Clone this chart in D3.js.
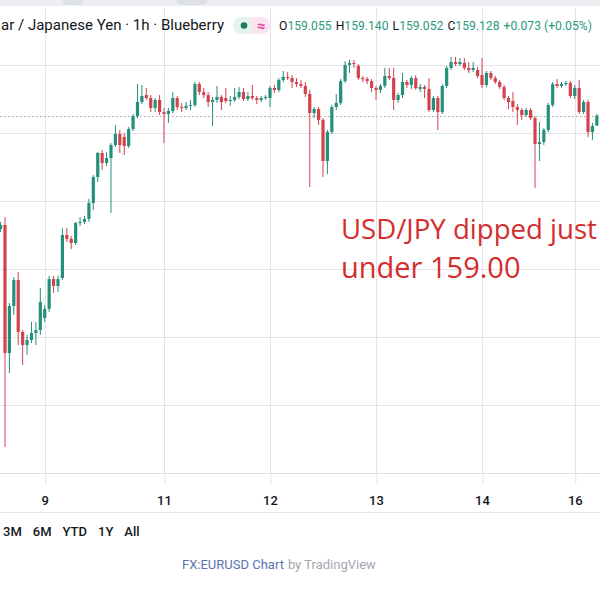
<!DOCTYPE html>
<html><head><meta charset="utf-8">
<script src="https://cdn.jsdelivr.net/npm/d3@7"></script>
<style>html,body{margin:0;padding:0;background:#fff;overflow:hidden}</style>
</head><body>
<svg id="c" width="600" height="600" xmlns="http://www.w3.org/2000/svg"></svg>
<script>
// ---- data ----
const open = [158.294,158.324,157.382,157.728,157.919,157.537,157.441,157.478,157.529,157.551,
157.640,157.706,157.926,157.875,157.934,158.250,158.221,158.191,158.338,158.346,
158.368,158.485,158.676,158.853,158.779,158.816,158.912,158.993,158.971,158.904,
159.029,159.125,159.228,159.279,159.257,159.184,159.243,159.154,159.140,159.162,
159.257,159.191,159.184,159.199,159.206,159.360,159.301,159.279,159.228,159.243,
159.265,159.257,159.235,159.243,159.265,159.301,159.250,159.272,159.257,159.243,
159.257,159.257,159.331,159.316,159.390,159.412,159.404,159.375,159.360,159.346,
159.287,159.147,159.176,159.096,158.794,159.007,159.191,159.221,159.382,159.500,
159.515,159.493,159.404,159.397,159.382,159.331,159.316,159.346,159.419,159.404,
159.243,159.279,159.375,159.353,159.404,159.324,159.338,159.324,159.169,159.257,
159.154,159.346,159.478,159.522,159.507,159.515,159.478,159.463,159.463,159.426,
159.353,159.441,159.404,159.375,159.338,159.257,159.235,159.191,159.169,159.132,
159.169,159.110,158.919,158.934,159.022,159.206,159.360,159.346,159.360,159.368,
159.272,159.331,159.154,159.228,159.007,159.055];
const high = [158.346,158.382,157.750,157.941,157.978,157.551,157.515,157.610,157.610,157.860,
157.735,157.949,157.949,157.949,158.301,158.301,158.243,158.346,158.382,158.390,
158.515,158.691,158.860,158.875,158.860,158.926,159.059,159.022,159.000,159.044,
159.140,159.360,159.353,159.331,159.279,159.257,159.279,159.184,159.184,159.301,
159.272,159.221,159.228,159.243,159.375,159.375,159.331,159.301,159.265,159.346,
159.279,159.331,159.272,159.331,159.338,159.331,159.301,159.353,159.272,159.272,
159.279,159.346,159.353,159.404,159.456,159.449,159.426,159.404,159.390,159.375,
159.316,159.191,159.191,159.110,159.022,159.206,159.287,159.397,159.529,159.537,
159.537,159.507,159.419,159.412,159.397,159.346,159.360,159.478,159.478,159.478,
159.294,159.441,159.390,159.419,159.426,159.360,159.353,159.404,159.272,159.272,
159.360,159.493,159.559,159.559,159.551,159.551,159.522,159.522,159.485,159.551,
159.456,159.456,159.419,159.390,159.353,159.272,159.301,159.213,159.184,159.184,
159.184,159.125,159.081,159.037,159.221,159.375,159.397,159.375,159.382,159.382,
159.353,159.390,159.243,159.243,159.074,159.140];
const low = [158.272,156.691,157.235,157.662,157.441,157.294,157.368,157.456,157.441,157.515,
157.610,157.684,157.824,157.831,157.919,158.199,158.147,158.176,158.316,158.331,
158.346,158.434,158.640,158.728,158.757,158.412,158.897,158.853,158.838,158.890,
159.015,159.110,159.213,159.243,159.154,159.154,159.132,158.926,159.074,159.147,
159.169,159.154,159.169,159.169,159.191,159.279,159.257,159.191,159.051,159.221,
159.169,159.221,159.199,159.228,159.250,159.235,159.235,159.243,159.213,159.228,
159.243,159.191,159.294,159.301,159.375,159.390,159.331,159.338,159.331,159.265,
158.603,159.110,159.059,158.676,158.699,158.993,159.169,159.206,159.368,159.441,
159.478,159.390,159.375,159.360,159.301,159.243,159.294,159.331,159.390,159.169,
159.221,159.257,159.331,159.324,159.316,159.301,159.257,159.154,159.154,159.022,
159.140,159.331,159.463,159.493,159.493,159.463,159.441,159.449,159.404,159.331,
159.338,159.390,159.360,159.324,159.243,159.176,159.154,159.059,159.096,159.118,
159.096,158.596,158.794,158.912,159.007,159.191,159.331,159.331,159.346,159.257,
159.250,159.140,159.140,158.971,158.949,159.052];
const close = [158.324,157.382,157.728,157.919,157.537,157.441,157.478,157.529,157.551,157.757,
157.706,157.926,157.875,157.926,158.250,158.221,158.191,158.338,158.346,158.368,
158.485,158.676,158.853,158.779,158.816,158.912,158.993,158.912,158.904,159.029,
159.125,159.228,159.272,159.257,159.184,159.243,159.154,159.140,159.162,159.257,
159.191,159.184,159.199,159.206,159.360,159.301,159.279,159.228,159.243,159.265,
159.228,159.235,159.243,159.265,159.301,159.250,159.272,159.257,159.243,159.257,
159.265,159.331,159.316,159.390,159.412,159.404,159.375,159.360,159.346,159.287,
159.147,159.176,159.096,158.794,159.007,159.191,159.221,159.382,159.500,159.515,
159.507,159.404,159.397,159.382,159.331,159.316,159.346,159.419,159.404,159.243,
159.279,159.375,159.353,159.404,159.331,159.338,159.324,159.169,159.257,159.154,
159.346,159.478,159.522,159.507,159.522,159.478,159.463,159.478,159.419,159.353,
159.441,159.404,159.375,159.338,159.257,159.228,159.191,159.169,159.132,159.169,
159.110,158.919,158.934,159.022,159.206,159.360,159.346,159.360,159.368,159.272,
159.331,159.154,159.228,159.007,159.051,159.128];
const dayTickIndex = [10, 37, 61, 85, 109, 130];
const dayTickLabels = ["9", "11", "12", "13", "14", "16"];
const priceGrid = [159.5, 159.0, 158.5, 158.0, 157.5, 157.0, 156.5];
const lastPrice = 159.128;
const titleText = "ar / Japanese Yen \u00b7 1h \u00b7 Blueberry";
const ohlcKeys = ["O", "H", "L", "C"];
const ohlcVals = ["159.055", "159.140", "159.052", "159.128"];
const changeText = "+0.073 (+0.05%)";
const rangeButtons = ["3M", "6M", "YTD", "1Y", "All"];
const noteLines = ["USD/JPY dipped just", "under 159.00"];
const footerLink = "FX:EURUSD Chart";
const footerBy = "by TradingView";

// ---- drawing ----
const W = 600, H = 600;
const UP = "#24907a", DOWN = "#d3424d", GRID = "#e2e4e9", TEXT = "#131722", VALC = "#2a9a83";
const FONT = "Roboto, 'Liberation Sans', sans-serif";
const svg = d3.select("#c");
svg.append("rect").attr("width", W).attr("height", H).attr("fill", "#fff");

const n = open.length;
const x = d3.scaleLinear().domain([0, n - 1]).range([0.56, 0.56 + (n - 1) * 4.417]);
const y = d3.scaleLinear().domain([156.5, 159.5]).range([473, 65]);

// top strip
svg.append("rect").attr("x", 0).attr("y", 0).attr("width", W).attr("height", 6).attr("fill", "#eceef1");
svg.append("rect").attr("x", 63).attr("y", -5).attr("width", 20).attr("height", 10).attr("rx", 4).attr("fill", "#dde0e5");
svg.append("rect").attr("x", 177).attr("y", -5).attr("width", 30).attr("height", 10).attr("rx", 4).attr("fill", "#dde0e5");

// grid
svg.append("g").selectAll("line").data(priceGrid).join("line")
  .attr("x1", 0).attr("x2", W)
  .attr("y1", d => Math.round(y(d)) + 0.5).attr("y2", d => Math.round(y(d)) + 0.5)
  .attr("stroke", GRID).attr("stroke-width", 1);
svg.append("g").selectAll("line").data(dayTickIndex).join("line")
  .attr("x1", d => Math.round(x(d)) + 0.5).attr("x2", d => Math.round(x(d)) + 0.5)
  .attr("y1", 7).attr("y2", 473)
  .attr("stroke", GRID).attr("stroke-width", 1);

// x axis
const xAxis = d3.axisBottom(x).tickValues(dayTickIndex)
  .tickFormat((d, i) => dayTickLabels[i]).tickSizeInner(12).tickSizeOuter(0).tickPadding(11);
const ax = svg.append("g").attr("transform", "translate(0,473)").call(xAxis);
ax.select(".domain").remove();
ax.selectAll(".tick line").attr("stroke", GRID).attr("transform", "translate(0.5,0)");
ax.selectAll(".tick text").attr("fill", TEXT).attr("font-family", FONT).attr("font-size", 13).attr("font-weight", 500);
svg.append("line").attr("x1", 0).attr("x2", W).attr("y1", 473.5).attr("y2", 473.5).attr("stroke", "#dcdfe5");
svg.append("line").attr("x1", 0).attr("x2", W).attr("y1", 512.5).attr("y2", 512.5).attr("stroke", "#e3e5ea");

// last price dotted line
svg.append("line").attr("x1", 0).attr("x2", W)
  .attr("y1", Math.round(y(lastPrice)) + 0.5).attr("y2", Math.round(y(lastPrice)) + 0.5)
  .attr("stroke", "#9ea2ab").attr("stroke-width", 1).attr("stroke-dasharray", "1.5,2.5");

// candles
const candles = d3.range(n).map(i => ({ i, o: open[i], h: high[i], l: low[i], c: close[i] }));
const cg = svg.append("g");
cg.selectAll("line").data(candles).join("line")
  .attr("x1", d => x(d.i)).attr("x2", d => x(d.i))
  .attr("y1", d => y(d.h)).attr("y2", d => y(d.l))
  .attr("stroke", d => d.c >= d.o ? UP : DOWN).attr("stroke-width", 1);
cg.selectAll("rect").data(candles).join("rect")
  .attr("x", d => x(d.i) - 1.6).attr("width", 3.2)
  .attr("y", d => y(Math.max(d.o, d.c)))
  .attr("height", d => Math.max(1, Math.abs(y(d.o) - y(d.c))))
  .attr("fill", d => d.c >= d.o ? UP : DOWN);

// header legend
svg.append("text").attr("x", 1).attr("y", 30).attr("font-family", FONT).attr("font-size", 15)
  .attr("fill", TEXT).attr("textLength", 223).attr("lengthAdjust", "spacingAndGlyphs").text(titleText);
svg.append("rect").attr("x", 233).attr("y", 17).attr("width", 37).attr("height", 17).attr("rx", 8.5).attr("fill", "#e5f2ed");
svg.append("path").attr("d", "M252,17 H261.5 A8.5,8.5 0 0 1 261.5,34 H252 Z").attr("fill", "#fbe4ef");
svg.append("circle").attr("cx", 244).attr("cy", 25.5).attr("r", 3.3).attr("fill", "#1f7a62");
svg.append("text").attr("x", 261).attr("y", 30.5).attr("text-anchor", "middle").attr("font-family", FONT)
  .attr("font-size", 15).attr("font-weight", 700).attr("fill", "#e0479a").text("\u2248");

// OHLC pieces, laid out one after another, sized to span x 279..596
const pieces = [];
ohlcKeys.forEach((k, i) => { pieces.push({ t: k, c: TEXT }); pieces.push({ t: ohlcVals[i], c: VALC, gap: true }); });
pieces.push({ t: changeText, c: VALC, gap: true });
const lg = svg.append("g");
const trial = lg.selectAll("text").data(pieces).join("text")
  .attr("font-family", FONT).attr("font-size", 13).attr("fill", d => d.c).attr("y", 30).text(d => d.t);
const sp = 4;
let tot = 0;
trial.each(function (d) { d.w = this.getComputedTextLength(); tot += d.w; });
const gaps = pieces.filter(d => d.gap).length * sp;
const k = (317 - gaps) / tot;
let px = 279;
trial.attr("font-size", 13 * k).each(function (d) {
  d3.select(this).attr("x", px);
  px += d.w * k + (d.gap ? sp : 0);
});

// annotation (first line shrunk just enough to stay inside the frame)
const notes = svg.append("g").selectAll("text").data(noteLines).join("text")
  .attr("x", 341).attr("y", (d, i) => 239 + i * 39)
  .attr("font-family", "'Open Sans', sans-serif").attr("font-size", 29)
  .attr("fill", "#d42d2d").text(d => d);
notes.each(function () {
  const w = this.getComputedTextLength();
  if (341 + w > 597) d3.select(this).attr("font-size", 29 * (597 - 341) / w);
});

// range buttons
let bx = 3;
rangeButtons.forEach(b => {
  const t = svg.append("text").attr("x", bx).attr("y", 536).attr("font-family", FONT)
    .attr("font-size", 13).attr("font-weight", 500).attr("fill", TEXT).text(b);
  bx += t.node().getComputedTextLength() + 11;
});

// footer
const f1 = svg.append("text").attr("x", 182).attr("y", 569).attr("font-family", FONT).attr("font-size", 13)
  .attr("fill", "#5b73b0").text(footerLink);
const w1 = f1.node().getComputedTextLength();
svg.append("text").attr("x", 182 + w1 + 4).attr("y", 569).attr("font-family", FONT).attr("font-size", 13)
  .attr("fill", "#a4a7b0").text(footerBy);
</script>
</body></html>
